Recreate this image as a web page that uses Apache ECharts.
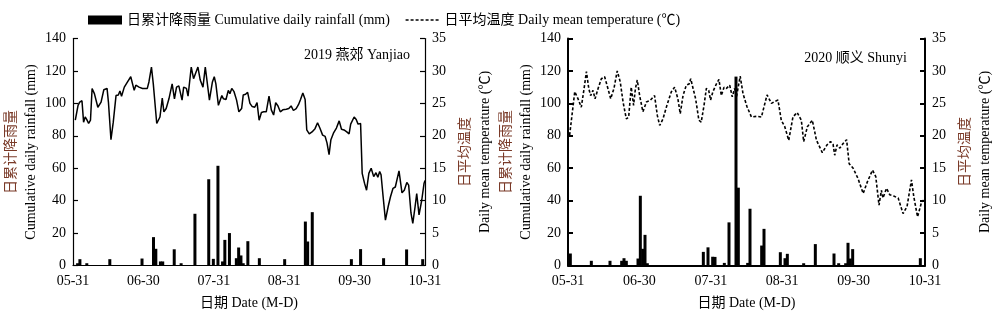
<!DOCTYPE html>
<html><head><meta charset="utf-8">
<script src="https://cdn.jsdelivr.net/npm/echarts@6/dist/echarts.min.js"></script>
<style>html,body{margin:0;padding:0;background:#fff}#c{width:1000px;height:323px}</style>
</head><body><div id="c"></div>
<script>
// x values are days after 05-31
const dateTicks = ['05-31', '06-30', '07-31', '08-31', '09-30', '10-31'];
const rainName = '日累计降雨量 Cumulative daily rainfall (mm)';
const tempName = '日平均温度 Daily mean temperature (℃)';
const panelTitles = ['2019 燕郊 Yanjiao', '2020 顺义 Shunyi'];

const rain2019 = [[2,1.4],[3,3.9],[6,1.4],[16,3.9],[30,4.3],[35,17.5],[36,10.3],[38,2.5],[39,2.5],[44,10],[47,1.4],[53,31.9],[59,53.2],[61,4.1],[63,61.5],[65,2.5],[66,15.8],[68,20],[71,4.5],[72,11.1],[73,6.2],[74,1.4],[76,15],[81,4.5],[92,3.9],[101,27.1],[102,14.8],[104,32.9],[121,3.9],[125,10.1],[135,4.5],[145,9.9],[152,3.9]];

const temp2019 = [[1.0,22.4],[2.2,24.7],[2.9,25.2],[3.9,25.4],[4.6,22.1],[5.3,22.9],[6.0,22.5],[6.8,21.9],[7.6,22.4],[8.3,27.3],[9.3,26.5],[10.8,24.4],[11.5,24.3],[12.2,25.2],[13.4,27.1],[14.8,27.3],[15.4,25.2],[16.5,19.4],[17.5,22.1],[18.7,26.2],[19.7,26.3],[20.4,26.9],[21.1,26.1],[22.3,27.5],[23.7,28.3],[25.1,29.1],[26.6,27.0],[27.3,27.8],[28.7,27.5],[30.2,27.3],[30.9,27.0],[32.3,27.3],[33.0,28.3],[34.1,30.6],[34.9,28.0],[36.4,21.9],[37.8,22.9],[38.8,25.8],[39.5,23.7],[40.5,24.2],[41.7,25.7],[43.1,28.0],[44.1,25.7],[45.0,27.5],[46.0,27.7],[47.4,25.5],[48.1,27.5],[49.3,27.3],[50.0,26.1],[51.4,30.6],[52.4,28.8],[53.2,28.6],[54.3,30.6],[55.3,28.6],[56.5,27.5],[57.5,30.6],[58.2,28.6],[59.3,25.5],[60.6,28.3],[61.4,29.1],[62.1,28.0],[63.2,24.7],[64.7,26.2],[65.4,25.7],[66.5,25.6],[67.5,27.0],[68.2,26.5],[69.0,27.3],[70.0,26.8],[71.1,25.5],[72.1,23.7],[73.3,24.2],[74.0,26.3],[75.0,26.4],[75.9,26.7],[76.9,25.0],[77.9,24.5],[79.0,24.4],[80.0,25.1],[80.9,22.4],[81.9,23.6],[82.9,23.7],[84.0,23.7],[85.2,26.1],[86.2,24.0],[87.2,23.2],[88.1,25.1],[89.1,24.6],[90.1,23.7],[91.2,24.0],[92.7,24.1],[93.8,24.2],[94.8,24.6],[95.8,23.9],[97.0,24.2],[98.0,24.8],[98.9,25.6],[99.9,26.6],[100.9,25.6],[101.6,20.9],[102.7,20.3],[103.9,20.6],[105.2,21.1],[106.3,22.0],[107.3,21.2],[108.5,20.1],[109.6,19.9],[110.4,18.9],[111.3,17.1],[112.1,19.4],[113.2,20.4],[114.5,21.2],[115.7,22.3],[116.7,21.0],[117.8,20.9],[119.0,20.6],[120.0,20.3],[120.7,21.8],[122.2,22.9],[123.1,22.5],[123.9,21.8],[125.0,21.9],[125.7,14.2],[126.7,12.7],[127.6,11.6],[128.6,14.2],[129.6,15.0],[130.7,13.7],[131.7,14.3],[132.5,13.6],[133.3,14.5],[133.9,14.0],[134.8,10.6],[135.8,7.0],[137.0,9.1],[138.0,10.6],[139.1,11.9],[140.1,12.1],[140.8,12.3],[141.7,14.6],[143.0,11.2],[144.0,11.6],[145.1,12.8],[145.9,12.4],[146.9,8.1],[147.7,6.5],[148.7,9.1],[149.4,11.1],[150.4,7.8],[151.6,10.1],[152.6,12.7],[153.0,13.1]];

const rain2020 = [[1,7.4],[10,2.9],[18,2.9],[23,2.9],[24,4.5],[25,2.9],[30,4.3],[31,43],[32,10.3],[33,18.9],[34,1.4],[58,8.4],[60,11.2],[62,5.4],[63,5.3],[67,1.6],[69,26.6],[72,116.5],[73,48],[77,1.6],[78,35],[83,12.3],[84,22.6],[91,8.2],[93,4.5],[94,7.2],[101,1.4],[106,13.2],[114,7.4],[116,1.4],[119,1.4],[120,14],[121,4.3],[122,10.1],[151,4.5]];

const temp2020 = [[0.7,20.1],[2.9,26.8],[4.3,25.7],[5.7,24.4],[6.9,27.3],[7.9,29.9],[8.9,27.3],[9.7,26.2],[10.7,27.0],[11.6,25.7],[12.9,27.3],[14.3,28.8],[15.7,29.1],[17.1,27.3],[18.3,25.7],[19.7,27.3],[21.1,30.0],[22.4,28.3],[23.6,25.2],[25.0,22.6],[26.0,22.9],[27.1,27.5],[28.1,24.7],[28.9,27.3],[29.7,28.6],[30.7,26.2],[32.1,23.7],[33.6,25.2],[35.3,25.5],[37.1,26.2],[38.3,23.1],[39.3,21.6],[40.7,22.6],[42.4,24.7],[44.3,26.8],[45.7,27.5],[47.1,25.7],[48.1,23.4],[49.3,26.2],[50.7,27.8],[51.9,28.0],[52.6,28.8],[53.6,27.3],[54.7,25.7],[56.1,22.4],[57.1,22.1],[58.3,24.7],[59.3,27.3],[60.3,27.0],[61.1,25.5],[62.1,26.8],[63.6,28.0],[64.7,28.7],[65.7,26.2],[66.9,27.5],[67.9,27.3],[69.3,27.8],[70.4,26.0],[71.4,27.3],[72.2,26.0],[73.8,29.2],[75.0,26.5],[76.7,24.5],[78.6,22.9],[80.7,23.0],[82.9,22.9],[85.3,26.3],[87.2,25.0],[88.6,25.3],[90.0,25.5],[91.4,22.4],[92.9,21.4],[94.6,19.3],[96.4,22.9],[98.2,23.6],[100.0,22.4],[101.0,19.1],[102.6,21.4],[104.7,22.4],[106.5,19.3],[109.0,17.4],[111.0,18.6],[112.5,19.1],[113.6,18.7],[114.3,17.0],[115.3,18.6],[116.5,18.1],[117.9,18.8],[119.4,19.4],[120.5,15.7],[122.2,15.0],[124.3,13.4],[126.5,11.1],[128.3,12.9],[130.5,14.7],[131.9,13.7],[133.3,9.3],[134.3,11.6],[135.0,10.4],[136.5,11.9],[137.9,10.9],[139.6,10.7],[141.5,10.4],[143.6,8.0],[145.3,9.1],[147.2,13.2],[148.2,10.6],[149.8,7.5],[150.6,7.2],[151.4,9.6],[152.4,10.1]];

const FONT = "'Liberation Serif','Times New Roman','Noto Sans CJK SC',serif";
const BROWN = '#7a3a28';
const FS = 14;

function xAx(gi, lw) {
  return {
    type: 'value', gridIndex: gi, min: 0, max: 153, interval: 30.6,
    axisLine: { show: true, onZero: false, lineStyle: { color: '#000', width: lw } },
    axisTick: { show: false }, splitLine: { show: false },
    axisLabel: { color: '#000', fontSize: FS, fontFamily: FONT, margin: 9,
      formatter: v => dateTicks[Math.round(v / 30.6)] },
    name: '日期 Date (M-D)', nameLocation: 'middle', nameGap: 31,
    nameTextStyle: { color: '#000', fontSize: FS, fontFamily: FONT }
  };
}
function yAx(gi, pos, max, itv, lw, cn, en, gap) {
  return {
    type: 'value', gridIndex: gi, position: pos, min: 0, max: max, interval: itv,
    axisLine: { show: true, lineStyle: { color: '#000', width: lw } },
    axisTick: { show: true, inside: true, length: 5, lineStyle: { color: '#000', width: lw } },
    splitLine: { show: false },
    axisLabel: { color: '#000', fontSize: FS, fontFamily: FONT, margin: 7 },
    name: '{cn|' + cn + '}\n{en|' + en + '}', nameLocation: 'middle', nameRotate: 90, nameGap: gap,
    nameTextStyle: { lineHeight: 20, rich: {
      cn: { color: BROWN, fontSize: FS, fontFamily: FONT, lineHeight: 20 },
      en: { color: '#000', fontSize: FS, fontFamily: FONT, lineHeight: 20 } } }
  };
}

const chart = echarts.init(document.getElementById('c'), null, { renderer: 'canvas' });
chart.setOption({
  backgroundColor: '#fff',
  animation: false,
  title: [
    { text: panelTitles[0], right: 585, top: 43, textStyle: { fontSize: FS, fontWeight: 'normal', color: '#000', fontFamily: FONT } },
    { text: panelTitles[1], right: 88, top: 46, textStyle: { fontSize: FS, fontWeight: 'normal', color: '#000', fontFamily: FONT } }
  ],
  legend: {
    left: 83, top: 8, itemWidth: 34, itemHeight: 9, itemGap: 15, selectedMode: false,
    textStyle: { fontSize: FS, fontFamily: FONT, color: '#000' },
    data: [
      { name: rainName, icon: 'rect', itemStyle: { color: '#000' } },
      { name: tempName, lineStyle: { type: [3, 2], width: 1.5, color: '#000' },
        itemStyle: { color: 'rgba(0,0,0,0)', borderWidth: 0, opacity: 0 } }
    ]
  },
  grid: [
    { left: 70, right: 575, top: 38.5, bottom: 57.5 },
    { left: 568, right: 75, top: 38.5, bottom: 57.5 }
  ],
  xAxis: [xAx(0, 1.2), xAx(1, 2)],
  yAxis: [
    yAx(0, 'left', 140, 20, 1.2, '日累计降雨量', 'Cumulative daily rainfall (mm)', 32),
    yAx(0, 'right', 35, 5, 1.2, '日平均温度', 'Daily mean temperature (℃)', 30),
    yAx(1, 'left', 140, 20, 2, '日累计降雨量', 'Cumulative daily rainfall (mm)', 32),
    yAx(1, 'right', 35, 5, 2, '日平均温度', 'Daily mean temperature (℃)', 30)
  ],
  series: [
    { name: rainName, type: 'bar', xAxisIndex: 0, yAxisIndex: 0, data: rain2019, barWidth: 3,
      itemStyle: { color: '#000' } },
    { name: tempName, type: 'line', xAxisIndex: 0, yAxisIndex: 1, data: temp2019, symbol: 'none',
      lineStyle: { color: '#000', width: 1.5 } },
    { name: tempName, type: 'line', xAxisIndex: 1, yAxisIndex: 3, data: temp2020, symbol: 'none',
      lineStyle: { color: '#000', width: 1.6, type: [3, 2] } },
    { name: rainName, type: 'bar', xAxisIndex: 1, yAxisIndex: 2, data: rain2020, barWidth: 3,
      itemStyle: { color: '#000' } }
  ]
});
</script>
</body></html>
